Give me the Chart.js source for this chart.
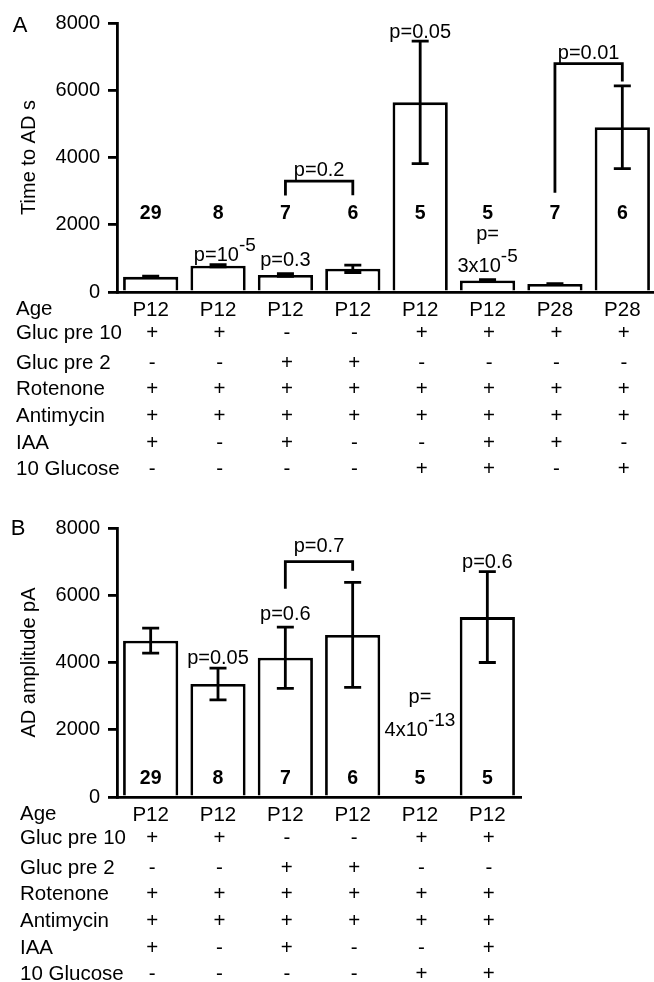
<!DOCTYPE html>
<html><head><meta charset="utf-8">
<script src="https://cdn.jsdelivr.net/npm/chart.js@4.4.1/dist/chart.umd.min.js"></script>
<style>
html,body{margin:0;padding:0;background:#fff;overflow:hidden;width:654px;height:982px;position:relative}
canvas{position:absolute;left:0}
#cA{top:0}
#cB{top:490px}
</style></head><body>
<canvas id="cA" width="656" height="490"></canvas>
<canvas id="cB" width="654" height="492"></canvas>
<script>
// ---------- DATA ----------
const rowLabels = ['Age', 'Gluc pre 10', 'Gluc pre 2', 'Rotenone', 'Antimycin', 'IAA', '10 Glucose'];

// Panel A: Time to AD (s)
const ageA = ['P12', 'P12', 'P12', 'P12', 'P12', 'P12', 'P28', 'P28'];
const timeToAD = [450, 780, 505, 690, 5640, 345, 240, 4900];
const timeToADErr = [22, 30, 40, 110, 1820, 20, 12, 1230];
const nA = ['29', '8', '7', '6', '5', '5', '7', '6'];
const glucPre10A = ['+', '+', '-', '-', '+', '+', '+', '+'];
const glucPre2A = ['-', '-', '+', '+', '-', '-', '-', '-'];
const rotenoneA = ['+', '+', '+', '+', '+', '+', '+', '+'];
const antimycinA = ['+', '+', '+', '+', '+', '+', '+', '+'];
const iaaA = ['+', '-', '+', '-', '-', '+', '+', '-'];
const glucose10A = ['-', '-', '-', '-', '+', '+', '-', '+'];
const pLabelsA = [
  {at: 1.1, base: 'p=10', sup: '-5', y: 910},
  {at: 2, base: 'p=0.3', y: 760},
  {at: 4, base: 'p=0.05', y: 7560},
  {at: 5, base: 'p=', y: 1560},
  {at: 5, base: '3x10', sup: '-5', y: 580},
  {at: 2.5, base: 'p=0.2', y: 3450},
  {at: 6.5, base: 'p=0.01', y: 6930}
];
const bracketsA = [
  {from: 2, to: 3, top: 3300, leftEnd: 2870, rightEnd: 2880},
  {from: 6, to: 7, top: 6790, leftEnd: 2950, rightEnd: 6260}
];
const nLabelLevelA = 2180;

// Panel B: AD amplitude (pA)
const ageB = ['P12', 'P12', 'P12', 'P12', 'P12', 'P12'];
const adAmplitude = [4650, 3360, 4140, 4820, null, 5350];
const adAmplitudeErr = [370, 470, 910, 1560, null, 1350];
const nB = ['29', '8', '7', '6', '5', '5'];
const glucPre10B = ['+', '+', '-', '-', '+', '+'];
const glucPre2B = ['-', '-', '+', '+', '-', '-'];
const rotenoneB = ['+', '+', '+', '+', '+', '+'];
const antimycinB = ['+', '+', '+', '+', '+', '+'];
const iaaB = ['+', '-', '+', '-', '-', '+'];
const glucose10B = ['-', '-', '-', '-', '+', '+'];
const pLabelsB = [
  {at: 1, base: 'p=0.05', y: 3950},
  {at: 2, base: 'p=0.6', y: 5270},
  {at: 2.5, base: 'p=0.7', y: 7300},
  {at: 4, base: 'p=', y: 2790},
  {at: 4, base: '4x10', sup: '-13', y: 1810},
  {at: 5, base: 'p=0.6', y: 6810}
];
const bracketsB = [
  {from: 2, to: 3, top: 7000, leftEnd: 6190, rightEnd: 6730}
];
const nLabelLevelB = 400;

const yTicks = [0, 2000, 4000, 6000, 8000];

// ---------- DRAWING ----------
const FONT = "'Liberation Sans', Arial, Helvetica, sans-serif";
Chart.defaults.font.family = FONT;
Chart.defaults.color = '#000';
const LW = 2.8;

function drawSup(ctx, x, y, base, sup) {
  ctx.font = '20px ' + FONT;
  const wb = ctx.measureText(base).width;
  let ws = 0;
  if (sup) { ctx.font = '19px ' + FONT; ws = ctx.measureText(sup).width; }
  const x0 = x - (wb + ws) / 2;
  ctx.textAlign = 'left';
  ctx.textBaseline = 'alphabetic';
  ctx.font = '20px ' + FONT;
  ctx.fillText(base, x0, y);
  if (sup) { ctx.font = '19px ' + FONT; ctx.fillText(sup, x0 + wb, y - 10); }
}

const figurePlugin = {
  id: 'figure',
  afterDatasetsDraw(chart, args, o) {
    const ctx = chart.ctx, xs = chart.scales.x, ys = chart.scales.y;
    ctx.save();
    ctx.strokeStyle = '#000'; ctx.lineWidth = LW;
    o.values.forEach((v, i) => {
      const e = o.errors[i];
      if (v == null || e == null) return;
      const x = xs.getPixelForValue(i);
      const yt = ys.getPixelForValue(v + e), yb = ys.getPixelForValue(Math.max(v - e, 0));
      ctx.beginPath();
      ctx.moveTo(x, yt); ctx.lineTo(x, yb);
      ctx.moveTo(x - 8.5, yt); ctx.lineTo(x + 8.5, yt);
      ctx.moveTo(x - 8.5, yb); ctx.lineTo(x + 8.5, yb);
      ctx.stroke();
    });
    ctx.restore();
  },
  afterDraw(chart, args, o) {
    const ctx = chart.ctx, xs = chart.scales.x, ys = chart.scales.y;
    const bottom = chart.chartArea.bottom;
    ctx.save();
    ctx.fillStyle = '#000'; ctx.strokeStyle = '#000'; ctx.lineWidth = LW;
    // panel letter
    ctx.font = '22px ' + FONT; ctx.textAlign = 'center'; ctx.textBaseline = 'alphabetic';
    ctx.fillText(o.letter, o.letterPos[0], o.letterPos[1]);
    // table
    ctx.font = '20.5px ' + FONT; ctx.textBaseline = 'middle';
    o.rows.forEach((row, r) => {
      const y = bottom + o.rowOffsets[r];
      ctx.textAlign = 'left';
      ctx.fillText(rowLabels[r], o.rowLabelX, y);
      if (r === 0) return; // age row drawn by the axis
      ctx.textAlign = 'center';
      row.forEach((s, i) => ctx.fillText(s, xs.getPixelForValue(i) + 1.5, y));
    });
    // n labels
    ctx.font = 'bold 19.5px ' + FONT; ctx.textAlign = 'center'; ctx.textBaseline = 'alphabetic';
    o.n.forEach((s, i) => ctx.fillText(s, xs.getPixelForValue(i), ys.getPixelForValue(o.nLevel)));
    // brackets
    o.brackets.forEach(b => {
      const x1 = xs.getPixelForValue(b.from), x2 = xs.getPixelForValue(b.to);
      const yt = ys.getPixelForValue(b.top);
      ctx.beginPath();
      ctx.moveTo(x1, ys.getPixelForValue(b.leftEnd));
      ctx.lineTo(x1, yt); ctx.lineTo(x2, yt);
      ctx.lineTo(x2, ys.getPixelForValue(b.rightEnd));
      ctx.stroke();
    });
    // p-values
    o.pLabels.forEach(p => drawSup(ctx, xs.getPixelForValue(p.at), ys.getPixelForValue(p.y), p.base, p.sup));
    ctx.restore();
  }
};

function makeChart(id, cfg) {
  return new Chart(document.getElementById(id), {
    type: 'bar',
    data: {
      labels: cfg.labels,
      datasets: [{
        data: cfg.values,
        backgroundColor: '#fff',
        borderColor: '#000',
        borderWidth: LW,
        barPercentage: 0.82,
        categoryPercentage: 1
      }]
    },
    options: {
      responsive: false,
      animation: false,
      devicePixelRatio: 1,
      layout: {padding: cfg.padding},
      plugins: {
        legend: {display: false},
        tooltip: {enabled: false},
        figure: cfg.figure
      },
      scales: {
        x: {
          z: 1,
          offset: true,
          grid: {display: false},
          border: {display: true, color: '#000', width: LW},
          ticks: {font: {size: 20.5}, color: '#000', padding: -2, maxRotation: 0, autoSkip: false},
          afterFit: a => { a.height = cfg.xHeight; }
        },
        y: {
          min: 0, max: 8000,
          afterBuildTicks: a => { a.ticks = yTicks.map(v => ({value: v})); },
          grid: {drawOnChartArea: false, drawTicks: true, tickLength: 9, color: '#000', lineWidth: LW},
          border: {display: true, color: '#000', width: LW},
          ticks: {font: {size: 20}, color: '#000', padding: 8, callback: v => String(v)},
          title: {display: true, text: cfg.yTitle, font: {size: 20}, color: '#000', padding: {top: 17, bottom: 0}},
          afterFit: a => { a.width = 117; }
        }
      }
    },
    plugins: [figurePlugin]
  });
}

makeChart('cA', {
  labels: ageA,
  values: timeToAD,
  yTitle: 'Time to AD s',
  padding: {top: 23, left: 0, right: 0, bottom: 0},
  xHeight: 198,
  figure: {
    values: timeToAD, errors: timeToADErr, n: nA, nLevel: nLabelLevelA,
    rows: [ageA, glucPre10A, glucPre2A, rotenoneA, antimycinA, iaaA, glucose10A],
    rowOffsets: [17, 41.5, 71, 97, 124.5, 151, 177.5],
    rowLabelX: 16,
    brackets: bracketsA, pLabels: pLabelsA,
    letter: 'A', letterPos: [20, 32]
  }
});

makeChart('cB', {
  labels: ageB,
  values: adAmplitude,
  yTitle: 'AD amplitude pA',
  padding: {top: 38, left: 0, right: 133, bottom: 0},
  xHeight: 185,
  figure: {
    values: adAmplitude, errors: adAmplitudeErr, n: nB, nLevel: nLabelLevelB,
    rows: [ageB, glucPre10B, glucPre2B, rotenoneB, antimycinB, iaaB, glucose10B],
    rowOffsets: [17, 41.5, 71, 97, 124.5, 151, 177.5],
    rowLabelX: 20,
    brackets: bracketsB, pLabels: pLabelsB,
    letter: 'B', letterPos: [18, 45]
  }
});
</script>
</body></html>
